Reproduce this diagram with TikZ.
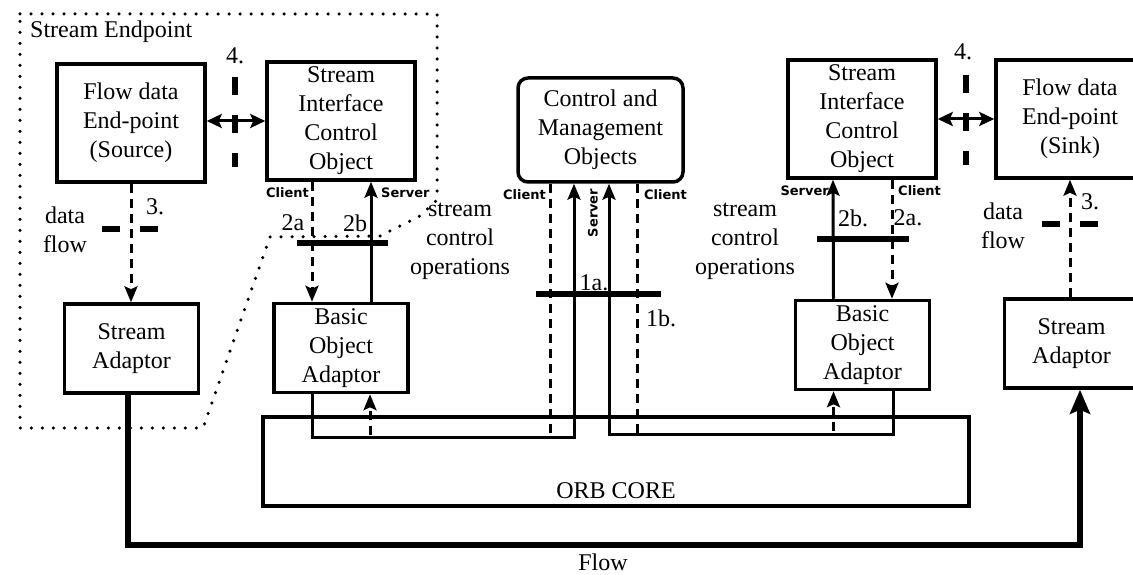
\documentclass[tikz,border=0pt]{standalone}
\usepackage{fontspec}
\setmainfont{Liberation Serif}
\newfontfamily\tagfont{DejaVu Sans}
\usetikzlibrary{arrows.meta, positioning}

\tikzstyle{block} = [rectangle, draw=black, line width=3.5pt, align=center, text centered, inner sep=0pt, font=\fontsize{24}{29}\selectfont]
\tikzstyle{objbox} = [block, minimum width=148pt, minimum height=118pt]
\tikzstyle{adaptbox} = [block, minimum width=134pt, minimum height=89pt]
\tikzstyle{mgmt} = [block, rounded corners=10pt, minimum width=165pt, minimum height=104pt]
\tikzstyle{txt} = [align=center, inner sep=0pt, font=\fontsize{24}{29}\selectfont]
\tikzstyle{tag} = [inner sep=1pt, font=\tagfont\bfseries\fontsize{13}{13}\selectfont]
\tikzstyle{ctrl} = [line width=3pt, ->, >={Stealth[length=16pt,width=13pt,inset=3pt]}]
\tikzstyle{call} = [ctrl, dash pattern=on 9pt off 6pt]
\tikzstyle{twoway} = [line width=3pt, <->, >={Stealth[length=15pt,width=14pt,inset=3pt]}]
\tikzstyle{bar} = [line width=6pt]
\tikzstyle{cut} = [line width=6pt, dash pattern=on 18pt off 20pt]
\tikzstyle{flowline} = [line width=6pt, ->, >={Stealth[length=24pt,width=20pt,inset=4pt]}]
\tikzstyle{endpoint} = [line width=3.5pt, line cap=round, dash pattern=on 0pt off 11pt]

\begin{document}
\begin{tikzpicture}[x=1pt, y=-1pt]
    \useasboundingbox (0,0) rectangle (1133,575);
    \clip (0,0) rectangle (1133,575);

    % Stream endpoint region
    \draw [endpoint] (20,14) -- (437,14) -- (437,200) -- (420,216) -- (380,236) -- (270,237) -- (203,428) -- (20,428) -- cycle;
    \node (sep) [txt, anchor=west] at (30,32) {Stream Endpoint};

    % Nodes
    \node (source) [objbox] at (131,123) {Flow data\\End-point\\(Source)};
    \node (sicoL) [objbox] at (341,121) {Stream\\Interface\\Control\\Object};
    \node (cmo) [mgmt] at (600.5,130) {Control and\\Management\\Objects};
    \node (sicoR) [objbox] at (862,119) {Stream\\Interface\\Control\\Object};
    \node (sink) [objbox] at (1070,119) {Flow data\\End-point\\(Sink)};

    \node (adaptL) [adaptbox] at (131.5,348.5) {Stream\\Adaptor};
    \node (boaL) [adaptbox] at (341,348) {Basic\\Object\\Adaptor};
    \node (boaR) [adaptbox] at (862.5,345) {Basic\\Object\\Adaptor};
    \node (adaptR) [adaptbox] at (1071.5,343.5) {Stream\\Adaptor};

    \node (orb) [block, minimum width=706pt, minimum height=89pt] at (616,461.5) {};
    \node (orblbl) [txt] at (616,491) {ORB CORE};

    % Labels
    \node (dfL) [txt] at (65,230) {data\\flow};
    \node (n3L) [txt] at (155,207) {3.};
    \node (n4L) [txt] at (235,56) {4.};
    \node (opsL) [txt] at (460,241) {stream\\control\\operations};
    \node (cliL) [tag, anchor=east] at (310,193) {Client};
    \node (srvL) [tag, anchor=west] at (380,193) {Server};
    \node (n2aL) [txt] at (293,223) {2a};
    \node (n2bL) [txt] at (355,223) {2b};

    \node (cliC1) [tag, anchor=east] at (547,195) {Client};
    \node (cliC2) [tag, anchor=west] at (643,195) {Client};
    \node (srvC) [tag, rotate=90] at (593,213) {Server};
    \node (n1a) [txt] at (594,283) {1a.};
    \node (n1b) [txt] at (661,318) {1b.};

    \node (opsR) [txt] at (745,241) {stream\\control\\operations};
    \node (srvR) [tag, anchor=east] at (830,191) {Server};
    \node (cliR) [tag, anchor=west] at (897,191) {Client};
    \node (n2bR) [txt] at (853,218) {2b.};
    \node (n2aR) [txt] at (908,218) {2a.};
    \node (n4R) [txt] at (963,52) {4.};
    \node (dfR) [txt] at (1003,226) {data\\flow};
    \node (n3R) [txt] at (1090,202) {3.};

    \node (flowlbl) [txt] at (603,562) {Flow};

    % Connections
    \draw [call] (source.south) -- (source.south |- adaptL.north);
    \draw [call] (adaptR.north -| sink.south) -- (sink.south);
    \draw [twoway] (source.east |- sicoL.west) -- (sicoL.west);
    \draw [twoway] (sicoR.east) -- (sicoR.east -| sink.west);

    \draw [call] ([xshift=-29pt]sicoL.south) -- ([xshift=-29pt]boaL.north);
    \draw [ctrl] ([xshift=30pt]boaL.north) -- ([xshift=30pt]sicoL.south);
    \draw [ctrl] ([xshift=-29pt]boaR.north) -- ([xshift=-29pt]sicoR.south);
    \draw [call] ([xshift=30pt]sicoR.south) -- ([xshift=30pt]sicoR.south |- boaR.north);

    \coordinate (busL) at (574,437);
    \coordinate (tapL) at (550,437);
    \coordinate (busR) at (609,434);
    \coordinate (tapR) at (637,434);
    \draw [ctrl] ([xshift=-29pt]boaL.south) |- (busL) -- (busL |- cmo.south);
    \draw [call] (tapL |- cmo.south) -- (tapL) -| ([xshift=29pt]boaL.south);
    \draw [ctrl] ([xshift=31pt]boaR.south) |- (busR) -- (busR |- cmo.south);
    \draw [call] (tapR |- cmo.south) -- (tapR) -| ([xshift=-29pt]boaR.south);

    \coordinate (flowL) at (128,545);
    \coordinate (flowR) at (1080,545);
    \draw [flowline] (adaptL.south -| flowL) -- (flowL) -- (flowR) -- (flowR |- adaptR.south);

    % Bars and cuts
    \draw [bar] (297,243) -- (388,243);
    \draw [bar] (536,294) -- (661,294);
    \draw [bar] (817,239) -- (909,239);
    \draw [cut] (102,229) -- (159,229);
    \draw [cut] (235,77) -- (235,167);
    \draw [cut] (966,75) -- (966,165);
    \draw [cut] (1042,224) -- (1102,224);
\end{tikzpicture}
\end{document}
